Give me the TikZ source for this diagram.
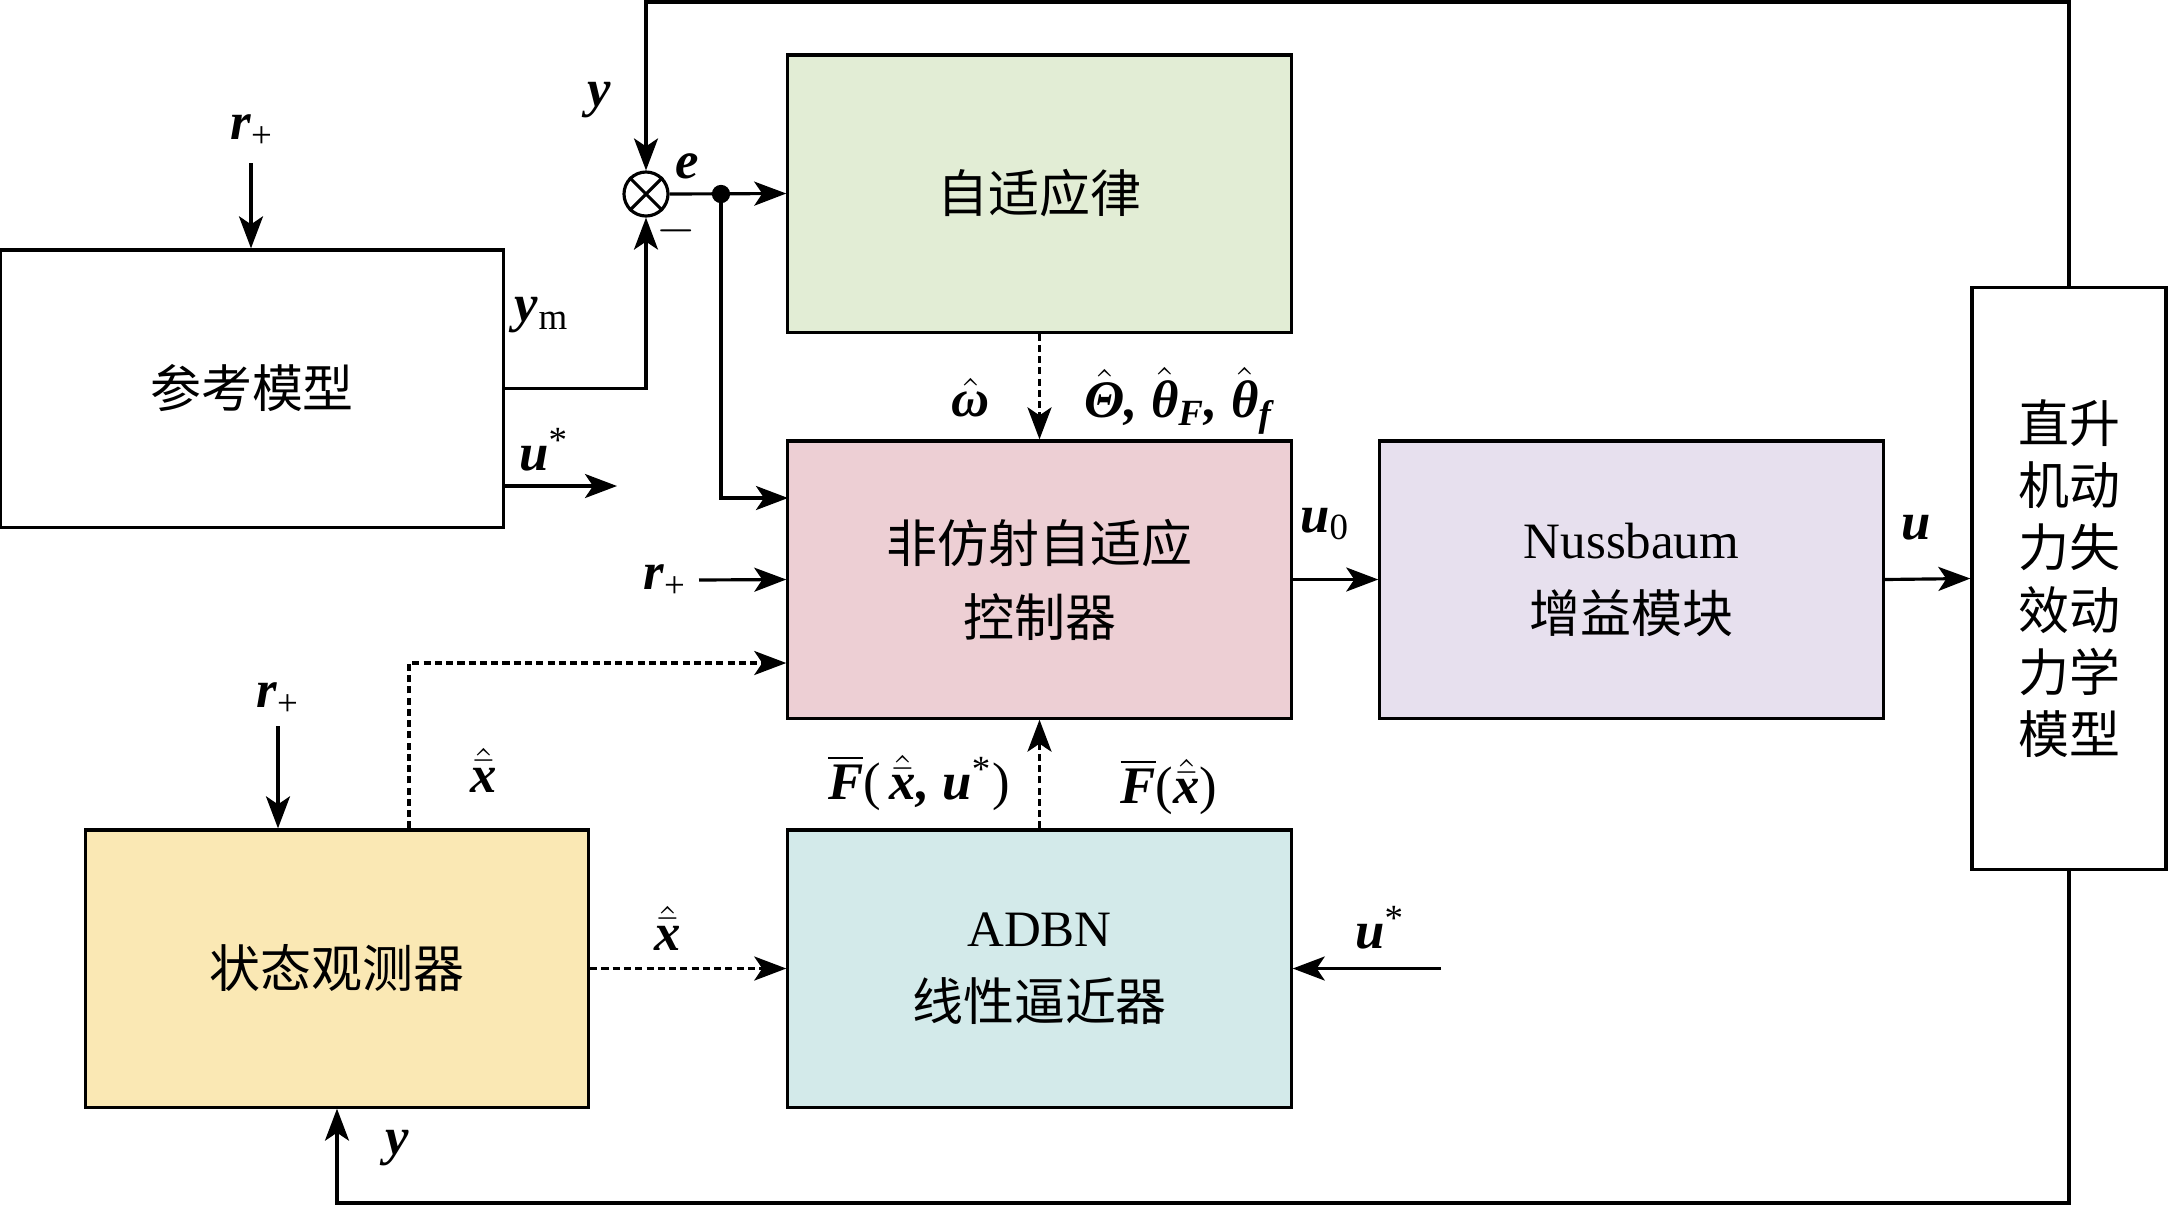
\documentclass[tikz,border=0pt]{standalone}
\usepackage{amsmath}
\usepackage{fontspec}
\setmainfont{Liberation Serif}
\newfontfamily\cjk{Noto Sans CJK SC}
\usetikzlibrary{arrows.meta,calc}
\definecolor{lawgreen}{HTML}{E2EDD5}
\definecolor{ctrlpink}{HTML}{EDCFD4}
\definecolor{nusslilac}{HTML}{E7E0EE}
\definecolor{obsyellow}{HTML}{FAE8B4}
\definecolor{adbncyan}{HTML}{D3EAEA}
\newcommand{\bi}[1]{\textbf{\textit{#1}}}
\tikzset{
	block/.style={draw,line width=0.9pt,minimum width=5.03cm,minimum height=2.77cm,inner sep=0pt,align=center,font=\cjk\fontsize{14.5}{21}\selectfont},
	arr/.style={line width=0.9pt,-{Stealth[length=3.2mm,width=2.4mm,inset=0.8mm]}},
	dsh/.style={dash pattern=on 2pt off 1.2pt},
	lbl/.style={inner sep=0pt,font=\fontsize{15}{18}\selectfont},
}
\begin{document}
\begin{tikzpicture}[x=0.01cm,y=-0.01cm]
			\useasboundingbox (0,0) rectangle (2169,1208);
			% blocks
			\node[block] (ref) at (252,388.5) {参考模型};
			\node[block,fill=lawgreen] (law) at (1039.5,193.5) {自适应律};
			\node[block,fill=ctrlpink] (ctrl) at (1039.5,579.5) {非仿射自适应\\控制器};
			\node[block,fill=nusslilac] (nuss) at (1631.5,579.5) {{\rmfamily Nussbaum}\\增益模块};
			\node[block,minimum width=1.94cm,minimum height=5.81cm,font=\cjk\fontsize{14.5}{17.7}\selectfont] (heli) at (2069,578.5) {直升\\机动\\力失\\效动\\力学\\模型};
			\node[block,fill=obsyellow] (obs) at (337,968.5) {状态观测器};
			\node[block,fill=adbncyan] (adbn) at (1039.5,968.5) {{\rmfamily ADBN}\\线性逼近器};
			\node[draw,circle,line width=0.9pt,minimum size=0.44cm,inner sep=0pt] (sum) at (646,194) {};
			\draw[line width=0.9pt] (sum.north east) -- (sum.south west) (sum.north west) -- (sum.south east);
			% free ends
			\coordinate (ytop) at (646,2);
			\coordinate (ybot) at (337,1203);
			\coordinate (jn) at (721,194);
			\coordinate (jnin) at (788,498);
			\coordinate (ustarend) at (617,486);
			\coordinate (rref) at (251,163);
			\coordinate (rctrl) at (699,580);
			\coordinate (robs) at (278,726);
			\coordinate (obsup) at (409,663);
			\coordinate (uadbn) at (1441,968.5);
			% connectors
			\draw[arr] (heli.north) |- (ytop) -- (sum);
			\draw[arr] (heli.south) |- (ybot) -- (obs.south);
			\draw[arr] (ref.east) -| (sum.south);
			\draw[arr] (ref.east |- ustarend) -- (ustarend);
			\draw[arr] (sum.east) -- (law.west);
			\fill (jn) circle (2.6pt);
			\draw[arr] (jn) |- (jnin);
			\draw[arr] (rref) -- (rref |- ref.north);
			\draw[arr] (rctrl) -- (ctrl.west);
			\draw[arr] (robs) -- (robs |- obs.north);
			\draw[arr,dsh] (obsup |- obs.north) -- (obsup) -- (obsup -| ctrl.west);
			\draw[arr,dsh] (obs.east) -- (adbn.west);
			\draw[arr] (uadbn) -- (adbn.east);
			\draw[arr,dsh] (adbn.north) -- (ctrl.south);
			\draw[arr,dsh] (law.south) -- (ctrl.north);
			\draw[arr] (ctrl.east) -- (nuss.west);
			\draw[arr] (nuss.east) -- (heli.west);
			% labels
			\node[lbl] (ly1) at (599,100) {\bi{y}};
			\node[lbl] (le) at (687,166) {\bi{e}};
			\node[lbl] (lminus) at (676,231) {$-$};
			\node[lbl] (lr1) at (252,131) {\bi{r}\textsubscript{+}};
			\node[lbl] (lym) at (542,315) {\bi{y}\textsubscript{m}};
			\node[lbl] (lus1) at (544,450) {\bi{u}\textsuperscript{*}};
			\node[lbl] (lom) at (971,398) {$\hat{\bi{ω}}$};
			\node[lbl] (lth) at (1180,401) {$\hat{\bi{Θ}}$\bi{,} $\hat{\bi{θ}}_{\bi{F}}$\bi{,} $\hat{\bi{θ}}_{\bi{f}}$};
			\node[lbl] (lu0) at (1325,524) {\bi{u}\textsubscript{0}};
			\node[lbl] (lu) at (1916,528) {\bi{u}};
			\node[lbl] (lr2) at (665,581) {\bi{r}\textsubscript{+}};
			\node[lbl] (lr3) at (278,699) {\bi{r}\textsubscript{+}};
			\node[lbl] (lx1) at (484,770) {$\hat{\bar{\bi{x}}}$};
			\node[lbl] (lF1) at (919,783) {$\overline{\bi{F}}$(\,$\hat{\bar{\bi{x}}}$\bi{,} \bi{u}\textsuperscript{*})};
			\node[lbl] (lF2) at (1169,787) {$\overline{\bi{F}}$($\hat{\bar{\bi{x}}}$)};
			\node[lbl] (lx2) at (668,928) {$\hat{\bar{\bi{x}}}$};
			\node[lbl] (lus2) at (1380,928) {\bi{u}\textsuperscript{*}};
			\node[lbl] (ly2) at (397,1148) {\bi{y}};
\end{tikzpicture}
\end{document}
